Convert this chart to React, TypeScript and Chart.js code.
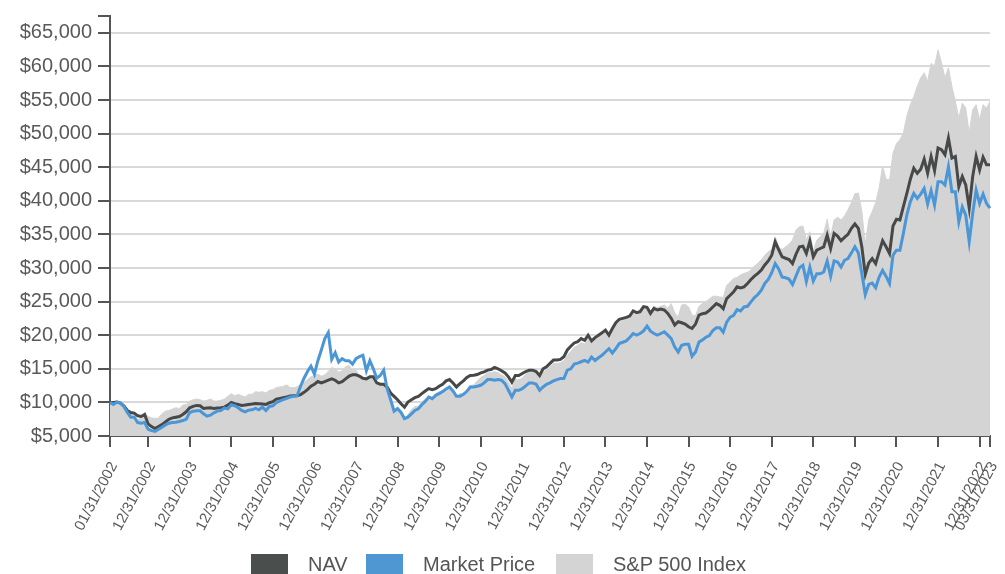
import React, { useEffect, useRef } from 'react';
import { Chart, registerables } from 'chart.js';

Chart.register(...registerables);

// Month-end categories from 01/31/2002 to 03/31/2023
const START_YEAR = 2002;
const MONTH_COUNT = 255;
const CATEGORIES: string[] = [];
for (let k = 0; k < MONTH_COUNT; k++) {
  const y = START_YEAR + Math.floor(k / 12);
  const m = k % 12;
  const d = new Date(y, m + 1, 0).getDate();
  CATEGORIES.push(String(m + 1).padStart(2, '0') + '/' + String(d).padStart(2, '0') + '/' + y);
}

const X_TICK_LABELS = [
  '01/31/2002', '12/31/2002', '12/31/2003', '12/31/2004', '12/31/2005', '12/31/2006',
  '12/31/2007', '12/31/2008', '12/31/2009', '12/31/2010', '12/31/2011', '12/31/2012',
  '12/31/2013', '12/31/2014', '12/31/2015', '12/31/2016', '12/31/2017', '12/31/2018',
  '12/31/2019', '12/31/2020', '12/31/2021', '12/31/2022', '03/31/2023',
];

const Y_TICKS = [5000, 10000, 15000, 20000, 25000, 30000, 35000, 40000, 45000, 50000, 55000, 60000, 65000];
const Y_MIN = 5000;
const Y_MAX = 67500;

const NAV = [
  10000, 10000, 10050, 9900, 9500, 8800, 8500, 8400, 8000, 7900, 8200, 6800,
  6400, 6100, 6400, 6700, 7100, 7500, 7700, 7800, 7900, 8200, 8600, 9200,
  9400, 9550, 9500, 9100, 9150, 9200, 9100, 9150, 9200, 9300, 9600, 10000,
  9800, 9700, 9550, 9600, 9700, 9750, 9850, 9800, 9750, 9700, 9950, 10100,
  10500, 10600, 10700, 10800, 10950, 11000, 11000, 11150, 11500, 11900, 12400, 12700,
  13100, 12900, 13100, 13300, 13500, 13300, 12900, 13100, 13500, 13900, 14100, 14100,
  13900, 13600, 13500, 13800, 13800, 12900, 12700, 12700, 12300, 11400, 10900, 10400,
  9800, 9300, 10050, 10400, 10700, 10900, 11300, 11700, 12050, 11900, 12050, 12400,
  12700, 13200, 13400, 12900, 12300, 12800, 13200, 13700, 14000, 14050, 14150, 14400,
  14550, 14800, 14900, 15200, 15000, 14700, 14400, 13800, 13000, 14000, 14000, 14300,
  14600, 14800, 14800, 14600, 14000, 15000, 15300, 15800, 16300, 16300, 16400, 16800,
  17800, 18350, 18850, 19050, 19500, 19250, 20000, 19150, 19650, 20000, 20350, 20750,
  20000, 21000, 21850, 22350, 22500, 22650, 22850, 23600, 23350, 23500, 24250, 24150,
  23250, 24000, 23750, 23900, 23750, 23250, 22500, 21500, 22000, 21850, 21650, 21250,
  21000, 21650, 23000, 23200, 23300, 23700, 24200, 24700, 24450, 23950, 25450, 25950,
  26450, 27200, 27050, 27200, 27700, 28300, 28800, 29200, 29700, 30450, 31050, 31900,
  33900, 32750, 31650, 31450, 31250, 30650, 32050, 33150, 33250, 32150, 34000, 31650,
  32650, 32900, 33150, 34900, 32900, 35150, 34750, 34050, 34550, 35000, 35900, 36550,
  35900, 33150, 29050, 30750, 31400, 30650, 32400, 34050, 33150, 32150, 36250, 37250,
  37150, 39150, 41100, 43200, 44850, 44100, 44700, 46200, 44100, 46600, 44500, 47850,
  47600, 46850, 49350, 46350, 46600, 42100, 43600, 42350, 38900, 43600, 46600, 44600,
  46500, 45350, 45350,
];

const MARKET_PRICE = [
  10000, 9700, 10050, 9900, 9400, 8500, 7800, 7800, 7000, 6900, 7000, 6000,
  5800, 5700, 6000, 6300, 6650, 6900, 7000, 7050, 7150, 7300, 7500, 8500,
  8700, 8750, 8750, 8300, 7950, 8100, 8450, 8700, 8800, 9150, 9050, 9650,
  9500, 9200, 8800, 8600, 8850, 8900, 9100, 8900, 9300, 8800, 9400, 9500,
  9950, 10200, 10400, 10600, 10800, 10900, 11000, 12400, 13600, 14600, 15400, 14200,
  16200, 17800, 19500, 20400, 16400, 17400, 16000, 16500, 16200, 16200, 15700, 16500,
  16800, 17000, 14700, 16200, 15000, 13600, 14000, 14800, 12000, 10400, 8700, 9100,
  8500, 7600, 7800, 8300, 8800, 9050, 9650, 10150, 10800, 10550, 11050, 11300,
  11600, 12000, 12300, 11700, 10900, 10900, 11200, 11650, 12300, 12300, 12400, 12550,
  12900, 13400, 13400, 13300, 13400, 13300, 12800, 11800, 10800, 11800, 11800, 12050,
  12450, 12900, 12900, 12700, 11800, 12300, 12700, 12900, 13200, 13400, 13550, 13550,
  14800, 15000, 15700, 15850, 16050, 16250, 16000, 16750, 16250, 16650, 17000, 17500,
  18000, 17350, 18000, 18750, 18950, 19150, 19650, 20250, 20000, 20250, 20650, 21350,
  20600, 20250, 20000, 20250, 20500, 20000, 19500, 18250, 17500, 18500, 18650, 18650,
  16850, 17500, 19000, 19300, 19700, 19950, 20700, 21100, 21100, 20450, 21950, 22700,
  22950, 23800, 23600, 24200, 24300, 24950, 25600, 26050, 26700, 27700, 28300, 29300,
  30650, 29850, 28650, 28550, 28350, 27550, 28800, 30050, 30400, 28000, 30150, 28050,
  29150, 29150, 29400, 31050, 28750, 31050, 30900, 30150, 31150, 31400, 32250, 33150,
  32250, 29150, 26050, 27550, 27750, 27050, 28650, 29650, 28750, 27700, 31900, 32650,
  32650, 35150, 37900, 39850, 41100, 40350, 41000, 41850, 39500, 41500, 39350, 42850,
  42850, 42350, 45100, 41350, 41350, 36850, 39100, 37850, 33900, 38100, 41600, 39600,
  41000, 39600, 38900,
];

const SP500_INDEX = [
  10000, 9900, 10200, 9600, 9500, 8800, 8200, 8200, 7300, 7900, 8400, 7900,
  7700, 7600, 7700, 8300, 8700, 8800, 9000, 9200, 9100, 9600, 9700, 10200,
  10400, 10500, 10400, 10200, 10300, 10500, 10200, 10200, 10300, 10500, 10900, 11300,
  11000, 11200, 11000, 10800, 11200, 11200, 11600, 11500, 11600, 11400, 11800, 11900,
  12200, 12300, 12400, 12600, 12200, 12200, 12300, 12700, 13000, 13400, 13800, 14000,
  14200, 13900, 14100, 14600, 15200, 15000, 14500, 14700, 15300, 15500, 14800, 14800,
  13900, 13500, 13600, 13700, 13900, 12800, 12600, 12700, 11600, 9700, 9000, 9100,
  8300, 7500, 8200, 8900, 9400, 9400, 10100, 10500, 10900, 10700, 11300, 11600,
  11200, 11600, 12300, 11300, 10700, 11400, 11000, 11900, 12500, 12600, 13200, 13700,
  14000, 14400, 14400, 14600, 14400, 14100, 13800, 13000, 12100, 13400, 13400, 13600,
  14200, 14500, 14500, 14300, 13600, 14500, 14900, 15300, 15800, 15800, 15900, 16200,
  17000, 17600, 18200, 18500, 18900, 18700, 19500, 18800, 19300, 19700, 20000, 20400,
  19700, 20800, 21500, 21900, 22200, 22500, 22500, 23200, 23000, 23500, 24100, 24200,
  23400, 24300, 24100, 24300, 24500, 24000, 24700, 23300, 22700, 24500, 24600, 24200,
  23000, 22900, 24300, 24700, 25000, 25400, 25800, 25800, 25700, 25600, 27400, 27900,
  28450, 28600, 28950, 29200, 29350, 29700, 30300, 30700, 31250, 31900, 32400, 32750,
  34650, 33150, 32750, 33150, 33550, 34150, 35650, 36150, 36250, 34150, 35400, 32500,
  34150, 34650, 35150, 37250, 34650, 37150, 37550, 37150, 37750, 38650, 39750, 41050,
  41150, 38500, 33500, 37250, 38400, 39750, 41900, 45150, 43200, 43100, 47100, 48500,
  49100, 50100, 52600, 54300, 55500, 57050, 58300, 59050, 57800, 60450, 60050, 62450,
  60550, 58300, 59800, 57050, 54800, 52300, 54550, 53800, 50100, 53550, 54300, 52050,
  54300, 53800, 54800,
];

const SERIES_NAMES = ['NAV', 'Market Price', 'S&P 500 Index'];
const SERIES_COLORS = ['#4a4e4d', '#4e97d3', '#d5d4d5'];

const FONT = '"Liberation Sans", Arial, Helvetica, sans-serif';
const AXIS_COLOR = '#555555';
const TEXT_COLOR = '#595959';
const GRID_COLOR = '#d9d9d9';

export default function App() {
  const canvasRef = useRef<HTMLCanvasElement | null>(null);

  useEffect(() => {
    const canvas = canvasRef.current;
    if (!canvas) return;
    const chart = new Chart(canvas, {
      type: 'line',
      data: {
        labels: CATEGORIES,
        datasets: [
          {
            label: SERIES_NAMES[0],
            data: NAV,
            borderColor: '#464948',
            borderWidth: 3,
            pointRadius: 0,
            fill: false,
            tension: 0,
            order: 1,
          },
          {
            label: SERIES_NAMES[1],
            data: MARKET_PRICE,
            borderColor: '#4b96d6',
            borderWidth: 3,
            pointRadius: 0,
            fill: false,
            tension: 0,
            order: 0,
          },
          {
            label: SERIES_NAMES[2],
            data: SP500_INDEX,
            borderColor: SERIES_COLORS[2],
            backgroundColor: SERIES_COLORS[2],
            borderWidth: 1,
            pointRadius: 0,
            fill: 'start',
            tension: 0,
            order: 2,
          },
        ],
      },
      options: {
        animation: false,
        responsive: false,
        maintainAspectRatio: false,
        events: [],
        layout: { padding: { left: 0, right: 15, top: 16, bottom: 0 } },
        plugins: {
          legend: { display: false },
          tooltip: { enabled: false },
        },
        scales: {
          x: {
            type: 'category',
            offset: false,
            grid: {
              drawOnChartArea: false,
              drawTicks: true,
              tickLength: 11,
              tickColor: AXIS_COLOR,
              tickWidth: 2,
              lineWidth: 2,
            },
            border: { display: true, color: AXIS_COLOR, width: 2 },
            ticks: {
              autoSkip: false,
              minRotation: 62,
              maxRotation: 62,
              padding: 12,
              labelOffset: 4,
              color: TEXT_COLOR,
              font: { family: FONT, size: 15 },
            },
            afterBuildTicks: (scale: any) => {
              scale.ticks = scale.ticks.filter((t: any) => X_TICK_LABELS.includes(CATEGORIES[t.value]));
            },
            afterFit: (scale: any) => {
              scale.height = 138;
              scale.paddingLeft = 0;
              scale.paddingRight = 0;
            },
          },
          y: {
            min: Y_MIN,
            max: Y_MAX,
            grid: {
              color: (ctx: any) => (ctx.tick && ctx.tick.value === Y_MAX ? 'rgba(0,0,0,0)' : GRID_COLOR),
              lineWidth: 2,
              tickColor: AXIS_COLOR,
              tickWidth: 2,
              tickLength: 12,
              drawTicks: true,
            },
            border: { display: true, color: AXIS_COLOR, width: 2 },
            ticks: {
              padding: 6,
              color: TEXT_COLOR,
              font: { family: FONT, size: 20 },
              callback: (v: any) => (v === Y_MAX ? '' : '$' + Number(v).toLocaleString('en-US')),
            },
            afterBuildTicks: (scale: any) => {
              scale.ticks = [...Y_TICKS, Y_MAX].map((v) => ({ value: v }));
            },
            afterFit: (scale: any) => {
              scale.width = 110;
              scale.paddingTop = 0;
              scale.paddingBottom = 0;
            },
          },
        },
      },
    });
    return () => chart.destroy();
  }, []);

  const legendItems = [
    { name: SERIES_NAMES[0], color: SERIES_COLORS[0], left: 251 },
    { name: SERIES_NAMES[1], color: SERIES_COLORS[1], left: 366 },
    { name: SERIES_NAMES[2], color: SERIES_COLORS[2], left: 556 },
  ];

  return (
    <div style={{ position: 'fixed', left: 0, top: 0, width: 1005, height: 574, background: '#ffffff', overflow: 'hidden' }}>
      <canvas ref={canvasRef} width={1005} height={574} style={{ display: 'block', width: 1005, height: 574 }} />
      {legendItems.map((it) => (
        <div key={it.name} style={{ position: 'absolute', left: it.left, top: 554, height: 20, display: 'flex', alignItems: 'center' }}>
          <div style={{ width: 37, height: 20, background: it.color }} />
          <span style={{ marginLeft: 20, fontFamily: FONT, fontSize: 20, lineHeight: '20px', color: '#555555', whiteSpace: 'nowrap' }}>{it.name}</span>
        </div>
      ))}
    </div>
  );
}
